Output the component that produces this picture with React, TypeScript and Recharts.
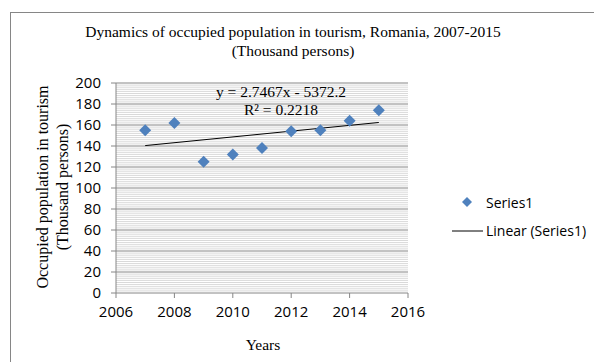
import { ComposedChart, Scatter, Line, XAxis, YAxis, ReferenceLine } from 'recharts';

const years = [2007, 2008, 2009, 2010, 2011, 2012, 2013, 2014, 2015];
const occupied = [155, 162, 125, 132, 138, 154, 155, 164, 174];
// trendline end points (y = 2.7467x - 5372.2)
const trendYears = [2007, 2015];
const trendValues = [140.4, 162.4];

const xTicks = [2006, 2008, 2010, 2012, 2014, 2016];
const yTicks = [0, 20, 40, 60, 80, 100, 120, 140, 160, 180, 200];
const minorTicks = Array.from({ length: 101 }, (_, i) => i * 2).filter((v) => v % 20 !== 0);

const points = years.map((year, i) => ({ year, value: occupied[i] }));
const trend = trendYears.map((year, i) => ({ year, value: trendValues[i] }));

const serif = '"Liberation Serif", "Times New Roman", serif';
const sans = '"Open Sans", sans-serif';
const blue = '#4f81bd';

const Diamond = (props: any) => {
  const { cx, cy } = props;
  const r = 6;
  return <polygon points={`${cx},${cy - r} ${cx + r},${cy} ${cx},${cy + r} ${cx - r},${cy}`} fill={blue} />;
};

// texts and legend drawn on top of the chart
const Overlay = () => (
  <svg width={594} height={362} style={{ position: 'absolute', left: 0, top: 0, pointerEvents: 'none' }}>
    <rect x={10.5} y={12.5} width={600} height={400} fill="none" stroke="#868686" />
    <text x={293} y={37} textAnchor="middle" fontFamily={serif} fontSize={15.5} fill="#000">
      Dynamics of occupied population in tourism, Romania, 2007-2015
    </text>
    <text x={293} y={56} textAnchor="middle" fontFamily={serif} fontSize={15.5} fill="#000">
      (Thousand persons)
    </text>
    <text x={281} y={97} textAnchor="middle" fontFamily={serif} fontSize={15.5} fill="#000">
      y = 2.7467x - 5372.2
    </text>
    <text x={281} y={115} textAnchor="middle" fontFamily={serif} fontSize={15.5} fill="#000">
      R² = 0.2218
    </text>
    <text transform="translate(48,187) rotate(-90)" textAnchor="middle" fontFamily={serif} fontSize={16} fill="#000">
      Occupied population in tourism
    </text>
    <text transform="translate(68,187) rotate(-90)" textAnchor="middle" fontFamily={serif} fontSize={16} fill="#000">
      (Thousand persons)
    </text>
    <text x={263} y={350} textAnchor="middle" fontFamily={serif} fontSize={15.5} fill="#000">
      Years
    </text>
    <polygon points="467,197 472,202 467,207 462,202" fill={blue} />
    <text x={486} y={208} fontFamily={sans} fontSize={14} fill="#000">Series1</text>
    <line x1={452} y1={231} x2={483} y2={231} stroke="#000" strokeWidth={1} />
    <text x={486} y={236} fontFamily={sans} fontSize={14} fill="#000">Linear (Series1)</text>
  </svg>
);

export default function App() {
  return (
    <div style={{ position: 'absolute', left: 0, top: 0, width: 594, height: 362, background: '#fff' }}>
      <ComposedChart width={594} height={362} margin={{ top: 83, right: 186, bottom: 39, left: 0 }}>
        {minorTicks.map((v) => (
          <ReferenceLine key={`m${v}`} y={v} stroke="#d9d9d9" />
        ))}
        {yTicks.slice(1).map((v) => (
          <ReferenceLine key={`M${v}`} y={v} stroke="#868686" />
        ))}
        <XAxis
          dataKey="year"
          type="number"
          domain={[2006, 2016]}
          ticks={xTicks}
          interval={0}
          allowDataOverflow
          stroke="#868686"
          tickSize={5}
          tick={{ fill: '#000', fontFamily: sans, fontSize: 15 }}
          tickMargin={8}
        />
        <YAxis
          dataKey="value"
          type="number"
          domain={[0, 200]}
          ticks={yTicks}
          interval={0}
          width={116}
          stroke="#868686"
          tickSize={5}
          tick={{ fill: '#000', fontFamily: sans, fontSize: 15 }}
          tickMargin={10}
        />
        <Line data={trend} dataKey="value" stroke="#000" strokeWidth={1} dot={false} isAnimationActive={false} />
        <Scatter data={points} dataKey="value" shape={Diamond} isAnimationActive={false} />
      </ComposedChart>
      <Overlay />
    </div>
  );
}
